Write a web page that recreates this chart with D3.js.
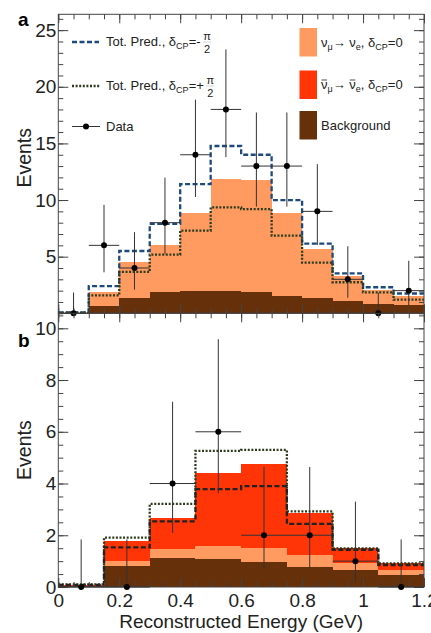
<!DOCTYPE html>
<html>
<head>
<meta charset="utf-8">
<script src="https://cdn.jsdelivr.net/npm/d3@7"></script>
<style>
  body { margin: 0; background: #fff; }
  svg { display: block; font-family: "Liberation Sans", Arial, sans-serif; }
</style>
</head>
<body>
<div id="chart"></div>
<script>
// ---- data ----
var edgesA = [0, 0.1, 0.2, 0.3, 0.4, 0.5, 0.6, 0.7, 0.8, 0.9, 1.0, 1.1, 1.2];
var edgesB = [0, 0.15, 0.3, 0.45, 0.6, 0.75, 0.9, 1.05, 1.2];

// panel a (neutrino mode), 12 bins
var bgA      = [0.02, 0.65, 1.38, 1.85, 1.95, 1.95, 1.85, 1.55, 1.35, 1.05, 0.85, 0.75];
var numuNueA = [0.03, 1.25, 3.17, 4.21, 6.95, 9.93, 9.95, 7.28, 4.31, 2.22, 1.2, 0.75];
var predMinusA = [0.08, 2.4, 5.5, 7.9, 11.4, 14.77, 14.0, 10.0, 6.15, 3.53, 2.3, 1.75];
var predPlusA  = [0.05, 1.58, 3.65, 5.18, 7.3, 9.35, 9.2, 6.85, 4.48, 2.74, 1.85, 1.2];
var dataA   = [0, 6, 4, 8, 14, 18, 13, 13, 9, 3, 0, 2];
var errLoA  = [0, 2.38, 1.91, 2.78, 3.73, 4.21, 3.58, 3.58, 2.96, 1.63, 0, 1.29];
var errHiA  = [1.84, 3.58, 3.16, 3.98, 4.86, 5.3, 4.73, 4.73, 4.17, 2.92, 1.84, 2.64];

// panel b (antineutrino mode), 8 bins
var bgB       = [0.03, 0.81, 1.11, 1.1, 0.98, 0.79, 0.64, 0.46];
var numuNueB  = [0.02, 0.18, 0.34, 0.48, 0.51, 0.44, 0.28, 0.21];
var anuAnueB  = [0.03, 0.79, 1.22, 2.81, 3.27, 1.63, 0.57, 0.27];
var predMinusB = [0.08, 1.53, 2.54, 3.78, 3.9, 2.44, 1.44, 0.85];
var predPlusB  = [0.1, 1.91, 3.21, 5.26, 5.3, 2.92, 1.49, 0.91];
var dataB   = [0, 0, 4, 6, 2, 2, 1, 0];
var errLoB  = [0, 0, 1.91, 2.38, 1.29, 1.29, 0.83, 0];
var errHiB  = [1.84, 1.84, 3.16, 3.58, 2.64, 2.64, 2.3, 1.84];

var xTicks  = [0, 0.2, 0.4, 0.6, 0.8, 1, 1.2];
var yTicksA = [5, 10, 15, 20, 25];
var yTicksB = [0, 2, 4, 6, 8, 10];

var colBg = '#66300a', colNue = '#ff9a60', colAnue = '#ff3508';

// ---- layout ----
var width = 431, height = 633;
var left = 58.3, right = 424;

var svg = d3.select('#chart').append('svg')
  .attr('width', width)
  .attr('height', height);

var x = d3.scaleLinear().domain([0, 1.2]).range([left, right]);
var yA = d3.scaleLinear().domain([0, 26.4]).range([313.3, 14.3]);
var yB = d3.scaleLinear().domain([0, 10.58]).range([587, 313.3]);

function drawPanel(p) {
  var g = svg.append('g');
  var n = p.edges.length - 1;

  // stacked fills
  var rows = d3.range(n).map(function (i) {
    var r = { i: i };
    p.layers.forEach(function (l) { r[l.key] = l.values[i]; });
    return r;
  });
  var stacked = d3.stack().keys(p.layers.map(function (l) { return l.key; }))(rows);
  stacked.forEach(function (s, k) {
    g.append('g').selectAll('rect')
      .data(s)
      .enter()
      .append('rect')
      .attr('x', function (d) { return x(p.edges[d.data.i]); })
      .attr('width', function (d) { return x(p.edges[d.data.i + 1]) - x(p.edges[d.data.i]); })
      .attr('y', function (d) { return p.y(d[1]); })
      .attr('height', function (d) { return p.y(d[0]) - p.y(d[1]); })
      .attr('fill', p.layers[k].color)
      .attr('shape-rendering', 'crispEdges');
  });

  // prediction lines
  var line = d3.line().curve(d3.curveStepAfter);
  p.lines.forEach(function (l) {
    var pts = p.edges.map(function (e, i) {
      return [x(e), p.y(l.values[Math.min(i, n - 1)])];
    });
    g.append('path')
      .attr('d', line(pts))
      .attr('fill', 'none')
      .attr('stroke', l.color)
      .attr('stroke-width', 2.3)
      .attr('stroke-dasharray', l.dash);
  });

  // frame + ticks
  var yMinor = d3.range(0, p.y.domain()[1], p.minorStep);
  var xMinor = d3.range(0, 1.2001, 0.05);
  var axes = [
    [d3.axisLeft(p.y).tickValues(yMinor).tickSize(-5).tickFormat(''), 'translate(' + left + ',0)'],
    [d3.axisRight(p.y).tickValues(yMinor).tickSize(-5).tickFormat(''), 'translate(' + right + ',0)'],
    [d3.axisRight(p.y).tickValues(p.yTicks).tickSize(-10).tickFormat(''), 'translate(' + right + ',0)'],
    [d3.axisTop(x).tickValues(xMinor).tickSize(-5).tickFormat(''), 'translate(0,' + p.y.range()[1] + ')'],
    [d3.axisTop(x).tickValues(xTicks).tickSize(-9).tickFormat(''), 'translate(0,' + p.y.range()[1] + ')'],
    [d3.axisBottom(x).tickValues(xMinor).tickSize(-5).tickFormat(''), 'translate(0,' + p.y.range()[0] + ')'],
    [d3.axisBottom(x).tickValues(xTicks).tickSize(-9).tickFormat(p.xLabels ? d3.format('~g') : '').tickPadding(7), 'translate(0,' + p.y.range()[0] + ')'],
    [d3.axisLeft(p.y).tickValues(p.yTicks).tickSize(-10).tickPadding(2).tickFormat(d3.format('d')), 'translate(' + left + ',0)']
  ];
  axes.forEach(function (a) {
    var ag = g.append('g').attr('transform', a[1]).call(a[0]);
    ag.select('.domain').remove();
    ag.selectAll('line').attr('stroke', '#444');
    ag.selectAll('text').attr('font-size', 19).attr('fill', '#222')
      .attr('font-family', '"Liberation Sans", Arial, sans-serif');
  });
  g.append('rect')
    .attr('x', left).attr('y', p.y.range()[1])
    .attr('width', right - left).attr('height', p.y.range()[0] - p.y.range()[1])
    .attr('fill', 'none').attr('stroke', '#444').attr('stroke-width', 1);

  // data points
  var pts = g.append('g').selectAll('g')
    .data(p.data.map(function (v, i) { return { v: v, i: i, lo: p.errLo[i], hi: p.errHi[i] }; }))
    .enter().append('g');
  pts.append('line')
    .attr('x1', function (d) { return x(p.edges[d.i]); })
    .attr('x2', function (d) { return x(p.edges[d.i + 1]); })
    .attr('y1', function (d) { return p.y(d.v); })
    .attr('y2', function (d) { return p.y(d.v); })
    .attr('stroke', '#333').attr('stroke-width', 1);
  pts.append('line')
    .attr('x1', function (d) { return x((p.edges[d.i] + p.edges[d.i + 1]) / 2); })
    .attr('x2', function (d) { return x((p.edges[d.i] + p.edges[d.i + 1]) / 2); })
    .attr('y1', function (d) { return p.y(d.v - d.lo); })
    .attr('y2', function (d) { return p.y(d.v + d.hi); })
    .attr('stroke', '#333').attr('stroke-width', 1);
  pts.append('circle')
    .attr('cx', function (d) { return x((p.edges[d.i] + p.edges[d.i + 1]) / 2); })
    .attr('cy', function (d) { return p.y(d.v); })
    .attr('r', 3)
    .attr('fill', '#000');

  // axis title + panel letter
  var mid = (p.y.range()[0] + p.y.range()[1]) / 2;
  g.append('text')
    .attr('transform', 'translate(31,' + (mid + p.titleShift) + ') rotate(-90)')
    .attr('text-anchor', 'middle')
    .attr('font-size', 19.5)
    .attr('fill', '#222')
    .text('Events');
  g.append('text')
    .attr('x', 18).attr('y', p.letterY)
    .attr('font-size', 19).attr('font-weight', 'bold')
    .text(p.letter);
}

drawPanel({
  edges: edgesA, y: yA, yTicks: yTicksA, minorStep: 1, xLabels: false,
  layers: [{ key: 'bg', values: bgA, color: colBg }, { key: 'nue', values: numuNueA, color: colNue }],
  lines: [{ values: predMinusA, color: '#1d4a7e', dash: '5,2.5' },
          { values: predPlusA, color: '#2b3b1c', dash: '2,1.6' }],
  data: dataA, errLo: errLoA, errHi: errHiA,
  titleShift: -6, letter: 'a', letterY: 26
});

drawPanel({
  edges: edgesB, y: yB, yTicks: yTicksB, minorStep: 0.5, xLabels: true,
  layers: [{ key: 'bg', values: bgB, color: colBg }, { key: 'nue', values: numuNueB, color: colNue },
           { key: 'anue', values: anuAnueB, color: colAnue }],
  lines: [{ values: predPlusB, color: '#2b3b1c', dash: '2,1.6' },
          { values: predMinusB, color: '#222', dash: '5,2.5' }],
  data: dataB, errLo: errLoB, errHi: errHiB,
  titleShift: 0, letter: 'b', letterY: 347
});

// x axis title
svg.append('text')
  .attr('x', (left + right) / 2).attr('y', 628)
  .attr('text-anchor', 'middle')
  .attr('font-size', 19)
  .attr('fill', '#222')
  .text('Reconstructed Energy (GeV)');

// ---- legend ----
var leg = svg.append('g').attr('font-size', 13).attr('fill', '#222');

function predLabel(yPos, sign) {
  var t = leg.append('text').attr('x', 106).attr('y', yPos + 4);
  t.append('tspan').text('Tot. Pred., \u03b4');
  t.append('tspan').attr('font-size', 9).attr('dy', 3).text('CP');
  t.append('tspan').attr('dy', -3).text('=' + sign);
  var w = t.node().getComputedTextLength();
  var fx = 106 + w + 6.5;
  leg.append('text').attr('x', fx).attr('y', yPos - 2.5).attr('text-anchor', 'middle').attr('font-size', 11).text('\u03c0');
  leg.append('line').attr('x1', fx - 4).attr('x2', fx + 4).attr('y1', yPos).attr('y2', yPos)
    .attr('stroke', '#bbb').attr('stroke-width', 0.6);
  leg.append('text').attr('x', fx).attr('y', yPos + 11).attr('text-anchor', 'middle').attr('font-size', 11).text('2');
}

leg.append('line').attr('x1', 72).attr('x2', 99).attr('y1', 42).attr('y2', 42)
  .attr('stroke', '#1d4a7e').attr('stroke-width', 2.3).attr('stroke-dasharray', '5,2.5');
predLabel(42, '-');
leg.append('line').attr('x1', 72).attr('x2', 100).attr('y1', 86).attr('y2', 86)
  .attr('stroke', '#2b3b1c').attr('stroke-width', 2.3).attr('stroke-dasharray', '2,1.6');
predLabel(86, '+');
leg.append('line').attr('x1', 72).attr('x2', 100).attr('y1', 126.5).attr('y2', 126.5)
  .attr('stroke', '#333').attr('stroke-width', 1);
leg.append('circle').attr('cx', 86).attr('cy', 126.5).attr('r', 3).attr('fill', '#000');
leg.append('text').attr('x', 106).attr('y', 131).text('Data');

var boxes = [
  { y: 42, color: colNue, bar: false, parts: [['\u03bd', 0], ['\u03bc', 1], ['\u2192 \u03bd', 0], ['e', 1], [', \u03b4', 0], ['CP', 1], ['=0', 0]] },
  { y: 84.5, color: colAnue, bar: true, parts: [['\u03bd', 0], ['\u03bc', 1], ['\u2192 \u03bd', 0], ['e', 1], [', \u03b4', 0], ['CP', 1], ['=0', 0]] },
  { y: 125, color: colBg, bar: false, parts: [['Background', 0]] }
];
boxes.forEach(function (b) {
  leg.append('rect').attr('x', 299.5).attr('y', b.y - 14).attr('width', 17.5).attr('height', 28.5)
    .attr('fill', b.color);
  var t = leg.append('text').attr('x', 321).attr('y', b.y + 4.5);
  var prev = 0;
  b.parts.forEach(function (pt) {
    var dy = pt[1] ? 3 : 0;
    t.append('tspan').attr('font-size', pt[1] ? 9 : 13).attr('dy', dy - prev).text(pt[0]);
    prev = dy;
  });
  if (b.bar) {
    // overline each nu for the antineutrino entry
    var node = t.node(), str = node.textContent;
    for (var c = 0; c < str.length; c++) {
      if (str[c] === '\u03bd') {
        var ext = node.getExtentOfChar(c);
        leg.append('line')
          .attr('x1', ext.x + 0.5).attr('x2', ext.x + ext.width - 0.5)
          .attr('y1', b.y - 4.5).attr('y2', b.y - 4.5)
          .attr('stroke', '#222').attr('stroke-width', 0.8);
      }
    }
  }
});
</script>
</body>
</html>
